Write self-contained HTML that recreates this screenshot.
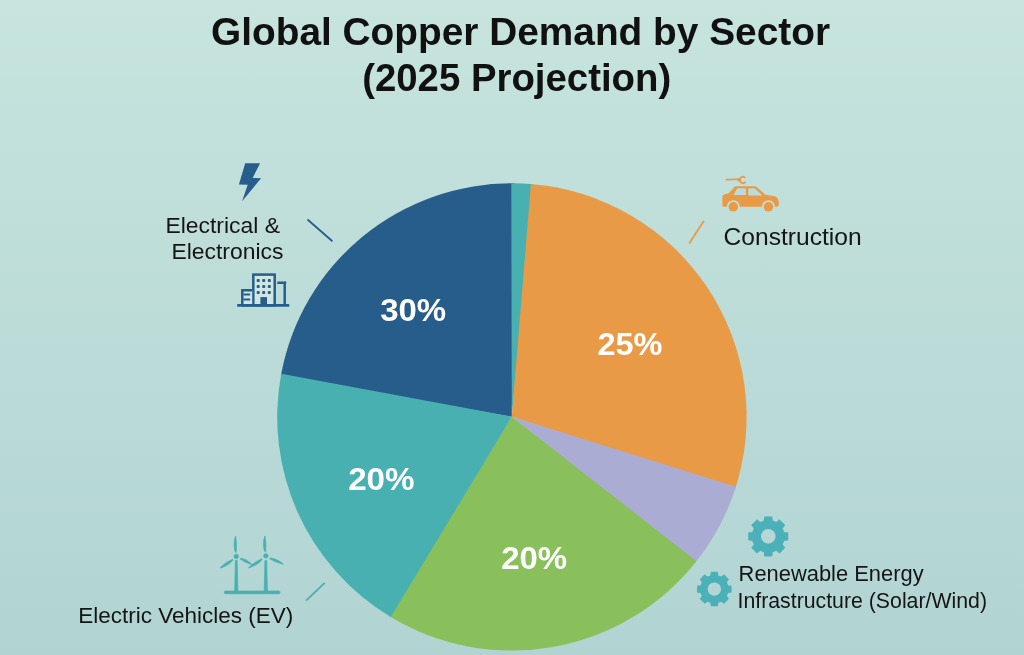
<!DOCTYPE html>
<html><head><meta charset="utf-8"><title>Global Copper Demand by Sector</title>
<style>
html,body{margin:0;padding:0;}
body{width:1024px;height:655px;overflow:hidden;background:#bcdcd9;font-family:"Liberation Sans",sans-serif;}
svg{display:block;}
.t{font-family:"Liberation Sans",sans-serif;font-weight:700;font-size:39.2px;fill:#111;}
.l{font-family:"Liberation Sans",sans-serif;font-size:22.3px;fill:#151515;}
.p{font-family:"Liberation Sans",sans-serif;font-weight:700;font-size:31.8px;fill:#fff;}
</style></head><body>
<svg width="1024" height="655" viewBox="0 0 1024 655">
<defs>
<linearGradient id="bg" x1="0" y1="0" x2="0" y2="1">
<stop offset="0" stop-color="#c7e4de"/><stop offset="1" stop-color="#b1d4d3"/>
</linearGradient>
</defs>
<rect width="1024" height="655" fill="url(#bg)"/>
<g id="pie">
<path d="M511.80 416.70 L280.82 376.04 A234.7 233.7 0 0 1 514.36 183.21 Z" fill="#275d8b"/>
<path d="M511.80 416.70 L511.30 183.20 A234.7 233.7 0 0 1 533.38 184.18 Z" fill="#48b0b0"/>
<path d="M511.80 416.70 L530.93 183.97 A234.7 233.7 0 0 1 735.16 488.96 Z" fill="#e89a47"/>
<path d="M511.80 416.70 L735.91 486.63 A234.7 233.7 0 0 1 694.89 563.24 Z" fill="#abacd3"/>
<path d="M511.80 416.70 L696.42 561.33 A234.7 233.7 0 0 1 388.64 615.78 Z" fill="#89c05b"/>
<path d="M511.80 416.70 L390.74 617.05 A234.7 233.7 0 0 1 281.26 373.63 Z" fill="#48b0b0"/>
</g>
<g id="title">
<text class="t" x="520.5" y="44.8" text-anchor="middle" textLength="619" lengthAdjust="spacingAndGlyphs">Global Copper Demand by Sector</text>
<text class="t" x="516.7" y="90.7" text-anchor="middle" textLength="309" lengthAdjust="spacingAndGlyphs">(2025 Projection)</text>
</g>
<g id="pct">
<text class="p" x="413.2" y="321.4" text-anchor="middle" textLength="66" lengthAdjust="spacingAndGlyphs">30%</text>
<text class="p" x="630" y="354.5" text-anchor="middle" textLength="65" lengthAdjust="spacingAndGlyphs">25%</text>
<text class="p" x="381.4" y="489.8" text-anchor="middle" textLength="66.5" lengthAdjust="spacingAndGlyphs">20%</text>
<text class="p" x="534.2" y="568.9" text-anchor="middle" textLength="66" lengthAdjust="spacingAndGlyphs">20%</text>
</g>
<g id="labels">
<text class="l" x="165.4" y="233.1" textLength="114.6" lengthAdjust="spacingAndGlyphs">Electrical &amp;</text>
<text class="l" x="171.4" y="259.1" textLength="112" lengthAdjust="spacingAndGlyphs">Electronics</text>
<text class="l" x="723.6" y="245.3" style="font-size:23.2px" textLength="138" lengthAdjust="spacingAndGlyphs">Construction</text>
<text class="l" x="78.2" y="622.6" textLength="215" lengthAdjust="spacingAndGlyphs">Electric Vehicles (EV)</text>
<text class="l" x="738.6" y="581.3" style="font-size:21.3px" textLength="185" lengthAdjust="spacingAndGlyphs">Renewable Energy</text>
<text class="l" x="737.5" y="607.9" style="font-size:21.3px" textLength="249.5" lengthAdjust="spacingAndGlyphs">Infrastructure (Solar/Wind)</text>
</g>
<g id="leaders" fill="none" stroke-width="1.8" stroke-linecap="butt">
<line x1="307.5" y1="219.5" x2="332.4" y2="241.3" stroke="#275d8b"/>
<line x1="703.8" y1="221.1" x2="689.2" y2="243.6" stroke="#e89a47"/>
<line x1="324.7" y1="582.9" x2="306.1" y2="600.7" stroke="#48b0b0"/>
</g>
<g id="icons">
<!-- lightning bolt -->
<path d="M245.2 163.2 L260.1 163.2 L252.7 177.9 L261.1 178.3 L242.1 201.2 L247.7 184.8 L238.9 184.4 Z" fill="#275d8b"/>
<!-- buildings -->
<g fill="none" stroke="#275d8b" stroke-width="2.5">
<rect x="253.3" y="274.6" width="21.4" height="30.7" fill="#cfe6e3"/>
<path d="M252.2 290.2 H242.3 V305.3 H252.2" fill="#cfe6e3"/>
<path d="M243.4 294.5 H250.2 M243.4 299.5 H250.2" stroke-width="2.1"/>
<path d="M277.3 282.8 H284.7 V305.3"/>
<path d="M284.7 282.8 H286.2" />
<path d="M237.2 305.4 H289.2" stroke-width="2.8"/>
</g>
<g fill="#275d8b">
<rect x="260.4" y="297.1" width="6.6" height="8.2"/>
<rect x="256.7" y="279.1" width="3" height="3" rx="0.8"/><rect x="262.2" y="279.1" width="3" height="3" rx="0.8"/><rect x="267.8" y="279.1" width="3" height="3" rx="0.8"/>
<rect x="256.7" y="285.1" width="3" height="3" rx="0.8"/><rect x="262.2" y="285.1" width="3" height="3" rx="0.8"/><rect x="267.8" y="285.1" width="3" height="3" rx="0.8"/>
<rect x="256.7" y="291.1" width="3" height="3" rx="0.8"/><rect x="262.2" y="291.1" width="3" height="3" rx="0.8"/><rect x="267.8" y="291.1" width="3" height="3" rx="0.8"/>
</g>
<!-- car with plug -->
<g transform="translate(715 170) scale(0.076336)">
<path d="M95 465 L98 345 Q100 322 125 318 L175 308 L258 220 Q266 212 280 212 L520 212 Q535 212 545 222 L660 325 L780 345 Q830 360 835 420 L835 462 Q830 482 805 480 L785 480 A85 85 0 0 0 615 480 L325 480 A85 85 0 0 0 155 480 L115 480 Q95 480 95 465 Z" fill="#e89a47"/>
<path d="M292 240 L405 240 L405 328 L240 328 Z M435 240 L520 240 L622 335 L435 335 Z" fill="#bcdad8"/>
<circle cx="240" cy="482" r="62" fill="#e89a47"/>
<circle cx="700" cy="482" r="62" fill="#e89a47"/>
<path d="M150 126 L290 121" stroke="#e89a47" stroke-width="22" stroke-linecap="round" fill="none"/>
<path d="M390 97 A41 41 0 1 0 394 161" stroke="#e89a47" stroke-width="23" stroke-linecap="round" fill="none"/>
<circle cx="312" cy="128" r="24" fill="#e89a47"/>
</g>
<!-- wind turbines -->
<g transform="translate(210 525) scale(0.122137)" fill="#48b0b0" stroke="#48b0b0" stroke-width="6" stroke-linejoin="round">
<rect x="118" y="541" width="454" height="22" rx="6"/>
<path d="M208 290 L222 290 L228 545 L202 545 Z"/>
<path d="M450 290 L464 290 L470 545 L444 545 Z"/>
<circle cx="215" cy="257" r="18"/>
<circle cx="457" cy="253" r="18"/>
<path d="M210 90 Q222 160 214 226 Q200 226 198 160 Q200 110 210 90 Z"/>
<path d="M82 352 Q130 300 186 280 Q194 290 150 322 Q110 348 82 352 Z"/>
<path d="M345 325 Q290 310 246 278 Q252 266 296 286 Q332 306 345 325 Z"/>
<path d="M450 90 Q462 160 456 222 Q442 222 438 160 Q440 110 450 90 Z"/>
<path d="M315 350 Q365 300 424 276 Q432 288 385 320 Q345 345 315 350 Z"/>
<path d="M602 322 Q545 310 488 276 Q494 262 545 284 Q585 302 602 322 Z"/>
</g>
<!-- gears -->
<path d="M764.56 521.04 L764.90 517.19 L771.60 517.19 L771.94 521.04 L776.51 522.93 L779.46 520.45 L784.20 525.19 L781.72 528.14 L783.61 532.71 L787.46 533.05 L787.46 539.75 L783.61 540.09 L781.72 544.66 L784.20 547.61 L779.46 552.35 L776.51 549.87 L771.94 551.76 L771.60 555.61 L764.90 555.61 L764.56 551.76 L759.99 549.87 L757.04 552.35 L752.30 547.61 L754.78 544.66 L752.89 540.09 L749.04 539.75 L749.04 533.05 L752.89 532.71 L754.78 528.14 L752.30 525.19 L757.04 520.45 L759.99 522.93Z M760.15 536.40 a8.1 8.1 0 1 0 16.2 0 a8.1 8.1 0 1 0 -16.2 0Z" fill="#4cb0b9" fill-rule="evenodd" stroke="#4cb0b9" stroke-width="1.6" stroke-linejoin="round"/>
<path d="M711.18 575.88 L711.48 572.65 L717.22 572.65 L717.52 575.88 L721.46 577.50 L723.95 575.44 L728.01 579.50 L725.95 581.99 L727.57 585.93 L730.80 586.23 L730.80 591.97 L727.57 592.27 L725.95 596.21 L728.01 598.70 L723.95 602.76 L721.46 600.70 L717.52 602.32 L717.22 605.55 L711.48 605.55 L711.18 602.32 L707.24 600.70 L704.75 602.76 L700.69 598.70 L702.75 596.21 L701.13 592.27 L697.90 591.97 L697.90 586.23 L701.13 585.93 L702.75 581.99 L700.69 579.50 L704.75 575.44 L707.24 577.50Z M706.85 589.10 a7.5 7.5 0 1 0 15.0 0 a7.5 7.5 0 1 0 -15.0 0Z" fill="#4cb0b9" fill-rule="evenodd" stroke="#4cb0b9" stroke-width="1.6" stroke-linejoin="round"/>
</g>
</svg>
</body></html>
